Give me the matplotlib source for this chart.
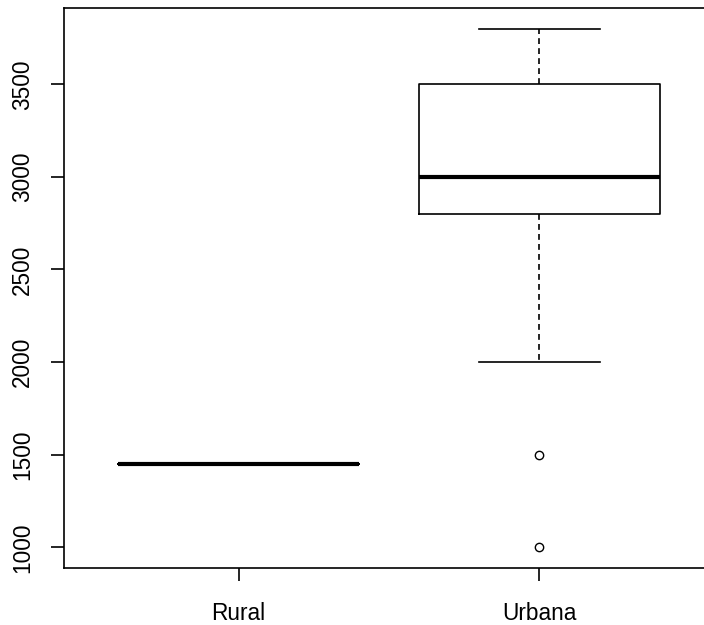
import matplotlib
matplotlib.use("Agg")
import matplotlib.pyplot as plt

groups = ["Rural", "Urbana"]
medians = [1450, 3000]
q1 = [1450, 2800]
q3 = [1450, 3500]
whisker_low = [1450, 2000]
whisker_high = [1450, 3800]
outliers = [[], [1500, 1000]]
yticks = [1000, 1500, 2000, 2500, 3000, 3500]

plt.rcParams['font.family'] = ['Liberation Sans', 'DejaVu Sans']

fig = plt.figure(figsize=(7.04, 6.25), dpi=100)
ax = fig.add_axes([64/704, 57/625, 650/704, 560/625])

stats = []
for i, g in enumerate(groups):
    stats.append(dict(label=g, med=medians[i], q1=q1[i], q3=q3[i],
                      whislo=whisker_low[i], whishi=whisker_high[i],
                      fliers=outliers[i]))

lw = 1.2
ax.bxp(stats, positions=[1, 2], widths=0.8, capwidths=0.4,
       boxprops=dict(color='black', linewidth=lw),
       medianprops=dict(color='black', linewidth=3.0, solid_capstyle='butt'),
       whiskerprops=dict(color='black', linewidth=lw, linestyle=(0, (3.5, 2.5))),
       capprops=dict(color='black', linewidth=lw),
       flierprops=dict(marker='o', markerfacecolor='none', markeredgecolor='black',
                       markersize=6, markeredgewidth=1.0))

ax.set_xlim(0.42, 2.58)
ax.set_ylim(888, 3912)
ax.set_yticks(yticks)
ax.set_yticklabels([str(v) for v in yticks], rotation=90, va='center')
ax.set_xticks([1, 2])
ax.set_xticklabels(groups)
ax.tick_params(axis='both', length=9.5, width=lw, labelsize=16.3, colors='black')
ax.tick_params(axis='y', pad=12)
ax.tick_params(axis='x', pad=15)
for s in ax.spines.values():
    s.set_linewidth(lw)
    s.set_color('black')

fig.savefig("out.png", dpi=100)
